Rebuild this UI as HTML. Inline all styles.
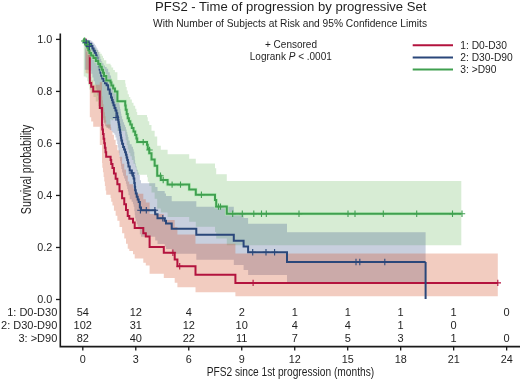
<!DOCTYPE html>
<html><head><meta charset="utf-8"><style>html,body{margin:0;padding:0;background:#fff;width:520px;height:380px;overflow:hidden}svg{display:block}svg{will-change:transform}</style></head>
<body><svg width="520" height="380" viewBox="0 0 520 380" font-family="'Liberation Sans', sans-serif"><rect width="520" height="380" fill="#fff"/><path d="M82.8,39.4H83.75V39.72H85.65V40.6H87.17V41.8H88.3V43.19H89.43V44.72H91.15V46.21H93.45V47.76H95.82V49.71H98.28V51.72H100.25V53.68H101.75V55.7H103V57.97H104V60.3H106.3V63.68H110.5V65.21H111.38V67.55H113.15V69.91H114.92V72.3H117.4V80.12H125.2V83.56H125.7V87.07H126.7V90.62H127.7V94.2H128.9V96.89H130.3V99.6H131.83V102.63H133.5V105.68H135.17V108.75H136.4V111.89H137.2V115.04H147V117.35H147.75V121.15H149.25V124.98H151.5V130.71H154.65V136.5H157.2V145.83H160.8V149.8H167.6V154.15H189.2V158.7H195.8V163.53H215V168.31H216.2V174.37H226.8V180.94H461.3V245.32H226.8V238.4H216.2V232.01H215V226.74H195.8V221.69H189.2V216.9H167.6V212.49H160.8V208.44H157.2V198.67H154.65V192.4H151.5V186.06H149.25V181.73H147.75V177.36H147V174.67H137.2V171.01H136.4V167.32H135.17V163.65H133.5V159.96H131.83V156.25H130.3V152.89H128.9V149.52H127.7V144.94H126.7V140.31H125.7V135.64H125.2V130.95H117.4V120.02H114.92V118.92H113.15V120.24H111.38V118.97H110.5V127.7H106.3V122.54H104V118.3H103V113.97H101.75V109.98H100.25V105.91H98.28V101.54H95.82V97.09H93.45V93.33H91.15V89.52H89.43V85.33H88.3V81.18H87.17V77.44H85.65V76.55H83.75V39.4H82.8Z" fill="#7ac070" fill-opacity="0.3"/><path d="M82.8,39.4H84.78V39.65H88.72V40.34H91.28V41.36H92.42V42.55H93.6V43.86H94.8V45.26H95.8V46.75H96.6V48.3H97.4V49.89H98.17V52.05H98.9V54.27H99.63V56.55H100.4V58.92H101.2V61.32H102.25V63.34H103.55V65.38H105V67.08H106.6V68.8H108.15V72.18H109.7V75.62H111.05V78.68H111.95V80.85H112.65V83.03H113.5V85.28H114.5V87.53H115.47V89.8H116.43V92.08H117.23V94.9H117.88V97.74H118.4V99.89H118.8V102.05H119.22V104.38H119.65V106.73H120.08V109.09H120.52V111.46H120.95V113.84H121.38V116.24H122.1V119.25H123.1V122.28H124.1V124.68H125.1V127.08H125.92V129.54H126.58V132.01H127.22V134.44H127.88V136.89H128.45V140.57H129.7V144.27H131.65V146.84H132.95V149.33H133.65V151.82H134.3V156.26H134.78V159.8H135.12V163.37H135.78V166.56H136.72V169.77H137.7V172.39H138.7V175.02H139.85V180.32H141V183.24H155.2V187.07H157.5V191.01H164.7V193.54H166V196.08H171.7V201.23H196.3V206.82H233.8V212.52H243.6V218.08H248.1V223.84H287V232.13H425.6V283.31H287V274.92H248.1V270.06H243.6V265.1H233.8V259.65H196.3V253.83H171.7V248.93H166V246.53H164.7V244.11H157.5V240.41H155.2V236.78H141V234.13H139.85V229.26H138.7V226.81H137.7V224.34H136.72V221.3H135.78V218.24H135.12V214.78H134.78V211.3H134.3V206.87H133.65V204.35H132.95V201.82H131.65V199.18H129.7V195.36H128.45V191.51H127.88V188.93H127.22V186.34H126.58V183.69H125.92V181.02H125.1V178.4H124.1V175.77H123.1V172.41H122.1V169.04H121.38V166.34H120.95V163.62H120.52V160.89H120.08V158.15H119.65V155.4H119.22V152.63H118.8V150.04H118.4V147.44H117.88V143.97H117.23V140.48H116.43V137.61H115.47V134.74H114.5V133.18H113.5V132.5H112.65V131.42H111.95V130.8H111.05V129.97H109.7V128.86H108.15V127.5H106.6V126.23H105V123.5H103.55V120.16H102.25V116.79H101.2V112.64H100.4V108.42H99.63V104.19H98.9V99.86H98.17V95.44H97.4V91.98H96.6V88.45H95.8V84.85H94.8V81.2H93.6V77.51H92.42V73.82H91.28V70.47H88.72V69.73H84.78V39.4H82.8Z" fill="#485f91" fill-opacity="0.3"/><path d="M82.8,39.4H85.6V41.65H87.2V44.79H88.6V48.51H89.8V76.98H91.2V80.48H93.2V84.74H99.8V82.14H102V96.33H102.32V100.22H102.96V104.15H103.61V108.13H104.25V112.14H104.89V116.2H105.54V120.3H106.18V124.44H110.6V127.36H111.22V131.04H112.47V134.76H113.95V139.84H115.65V144.98H117.35V150.16H119.5V156.87H122.1V163.67H124.27V169.54H126V175.47H127.73V181.49H129.3V184.25H133V188.25H134.7V193.73H143.3V199.23H145.8V202.57H149.6V213.95H163.8V219.99H174.7V227.08H177.4V234.51H195.5V243.76H235.4V253.5H497.8V296.21H235.4V292.29H195.5V287.25H177.4V282.73H174.7V277.9H163.8V273.64H149.6V265.42H145.8V262.87H143.3V258.57H134.7V254.23H133V250.99H129.3V248.72H127.73V243.68H126V238.55H124.27V233.33H122.1V227.11H119.5V220.79H117.35V215.78H115.65V210.71H113.95V205.59H112.47V201.77H111.22V197.93H110.6V194.83H106.18V190.42H105.54V185.96H104.89V181.46H104.25V176.92H103.61V172.34H102.96V167.7H102.32V163.03H102V144.93H99.8V126.69H93.2V121.49H91.2V117.16H89.8V78.56H88.6V73.54H87.2V73.34H85.6V39.4H82.8Z" fill="#d4552d" fill-opacity="0.3"/><path d="M83.1,39.4H85.6V42.5H87.2V46.5H88.6V51H89.8V83H91.2V86.8H93.2V91.4H99.8V107.9H102V125H102.32V129.54H102.96V134.09H103.61V138.63H104.25V143.17H104.89V147.71H105.54V152.26H106.18V156.8H110.6V160H111.22V164H112.47V168H113.95V173.43H115.65V178.87H117.35V184.3H119.5V191.25H122.1V198.2H124.27V204.13H126V210.07H127.73V216H129.3V218.7H133V222.6H134.7V227.9H143.3V233.2H145.8V236.4H149.6V247.1H163.8V252.8H174.7V259.5H177.4V266.3H195.5V274.7H235.4V282.9H497.8" fill="none" stroke="#b3133e" stroke-width="2"/><path d="M169.7,252.8H176.1M172.9,249.6V256" stroke="#b3133e" stroke-width="1.1" fill="none"/><path d="M176.5,266.3H182.9M179.7,263.1V269.5" stroke="#b3133e" stroke-width="1.1" fill="none"/><path d="M249.9,282.9H256.3M253.1,279.7V286.1" stroke="#b3133e" stroke-width="1.1" fill="none"/><path d="M494.6,282.9H501M497.8,279.7V286.1" stroke="#b3133e" stroke-width="1.1" fill="none"/><path d="M83.1,39.4H84.78V41.55H88.72V43.7H91.28V46.05H92.42V48.4H93.6V50.75H94.8V53.1H95.8V55.47H96.6V57.83H97.4V60.2H98.17V63.3H98.9V66.4H99.63V69.5H100.4V72.65H101.2V75.8H102.25V78.4H103.55V81H105V83.15H106.6V85.3H108.15V89.5H109.7V93.7H111.05V97.4H111.95V100H112.65V102.6H113.5V105.25H114.5V107.9H115.47V110.55H116.43V113.2H117.23V116.45H117.88V119.7H118.4V122.15H118.8V124.6H119.22V127.23H119.65V129.87H120.08V132.5H120.52V135.13H120.95V137.77H121.38V140.4H122.1V143.7H123.1V147H124.1V149.6H125.1V152.2H125.92V154.85H126.58V157.5H127.22V160.1H127.88V162.7H128.45V166.6H129.7V170.5H131.65V173.2H132.95V175.8H133.65V178.4H134.3V183H134.78V186.65H135.12V190.3H135.78V193.55H136.72V196.8H137.7V199.45H138.7V202.1H139.85V207.4H141V210.3H155.2V214.2H157.5V218.2H164.7V220.8H166V223.4H171.7V228.7H196.3V234.8H233.8V240.8H243.6V246.5H248.1V252.3H287V262H425.6" fill="none" stroke="#2a477a" stroke-width="2"/><path d="M425.6,262V299" stroke="#2a477a" stroke-width="2" fill="none"/><path d="M112.8,117.5H119.2M116,114.3V120.7" stroke="#2a477a" stroke-width="1.1" fill="none"/><path d="M128.8,173H135.2M132,169.8V176.2" stroke="#2a477a" stroke-width="1.1" fill="none"/><path d="M137.2,210.3H143.6M140.4,207.1V213.5" stroke="#2a477a" stroke-width="1.1" fill="none"/><path d="M143.1,210.3H149.5M146.3,207.1V213.5" stroke="#2a477a" stroke-width="1.1" fill="none"/><path d="M151.7,210.3H158.1M154.9,207.1V213.5" stroke="#2a477a" stroke-width="1.1" fill="none"/><path d="M159.6,218.2H166M162.8,215V221.4" stroke="#2a477a" stroke-width="1.1" fill="none"/><path d="M249.5,252.3H255.9M252.7,249.1V255.5" stroke="#2a477a" stroke-width="1.1" fill="none"/><path d="M262.8,252.3H269.2M266,249.1V255.5" stroke="#2a477a" stroke-width="1.1" fill="none"/><path d="M271.4,252.3H277.8M274.6,249.1V255.5" stroke="#2a477a" stroke-width="1.1" fill="none"/><path d="M352.8,262H359.2M356,258.8V265.2" stroke="#2a477a" stroke-width="1.1" fill="none"/><path d="M356.6,262H363M359.8,258.8V265.2" stroke="#2a477a" stroke-width="1.1" fill="none"/><path d="M381.6,262H388M384.8,258.8V265.2" stroke="#2a477a" stroke-width="1.1" fill="none"/><path d="M83.1,39.4H83.75V42.1H85.65V44.8H87.17V47.53H88.3V50.27H89.43V53H91.15V55.5H93.45V58H95.82V61H98.28V64H100.25V66.85H101.75V69.7H103V72.85H104V76H106.3V80.5H110.5V82.5H111.38V85.53H113.15V88.57H114.92V91.6H117.4V101.3H125.2V105.5H125.7V109.73H126.7V113.97H127.7V118.2H128.9V121.35H130.3V124.5H131.83V128H133.5V131.5H135.17V135H136.4V138.55H137.2V142.1H147V144.7H147.75V148.95H149.25V153.2H151.5V159.5H154.65V165.8H157.2V175.8H160.8V180H167.6V184.6H189.2V189.5H195.8V194.7H215V200H216.2V206.6H226.8V213.8H461.3" fill="none" stroke="#b8f0b8" stroke-opacity="0.7" stroke-width="3.6"/><path d="M83.1,39.4H83.75V42.1H85.65V44.8H87.17V47.53H88.3V50.27H89.43V53H91.15V55.5H93.45V58H95.82V61H98.28V64H100.25V66.85H101.75V69.7H103V72.85H104V76H106.3V80.5H110.5V82.5H111.38V85.53H113.15V88.57H114.92V91.6H117.4V101.3H125.2V105.5H125.7V109.73H126.7V113.97H127.7V118.2H128.9V121.35H130.3V124.5H131.83V128H133.5V131.5H135.17V135H136.4V138.55H137.2V142.1H147V144.7H147.75V148.95H149.25V153.2H151.5V159.5H154.65V165.8H157.2V175.8H160.8V180H167.6V184.6H189.2V189.5H195.8V194.7H215V200H216.2V206.6H226.8V213.8H461.3" fill="none" stroke="#40a050" stroke-width="2"/><path d="M140,142.1H146.4M143.2,138.9V145.3" stroke="#40a050" stroke-width="1.1" fill="none"/><path d="M146.3,150H152.7M149.5,146.8V153.2" stroke="#40a050" stroke-width="1.1" fill="none"/><path d="M157.3,175.8H163.7M160.5,172.6V179" stroke="#40a050" stroke-width="1.1" fill="none"/><path d="M160,180H166.4M163.2,176.8V183.2" stroke="#40a050" stroke-width="1.1" fill="none"/><path d="M168.9,184.6H175.3M172.1,181.4V187.8" stroke="#40a050" stroke-width="1.1" fill="none"/><path d="M177.3,184.6H183.7M180.5,181.4V187.8" stroke="#40a050" stroke-width="1.1" fill="none"/><path d="M198.2,194.7H204.6M201.4,191.5V197.9" stroke="#40a050" stroke-width="1.1" fill="none"/><path d="M215.3,206.6H221.7M218.5,203.4V209.8" stroke="#40a050" stroke-width="1.1" fill="none"/><path d="M217.3,206.6H223.7M220.5,203.4V209.8" stroke="#40a050" stroke-width="1.1" fill="none"/><path d="M229.5,213.8H235.9M232.7,210.6V217" stroke="#40a050" stroke-width="1.1" fill="none"/><path d="M239.1,213.8H245.5M242.3,210.6V217" stroke="#40a050" stroke-width="1.1" fill="none"/><path d="M250.6,213.8H257M253.8,210.6V217" stroke="#40a050" stroke-width="1.1" fill="none"/><path d="M258.3,213.8H264.7M261.5,210.6V217" stroke="#40a050" stroke-width="1.1" fill="none"/><path d="M263.1,213.8H269.5M266.3,210.6V217" stroke="#40a050" stroke-width="1.1" fill="none"/><path d="M295.8,213.8H302.2M299,210.6V217" stroke="#40a050" stroke-width="1.1" fill="none"/><path d="M344.8,213.8H351.2M348,210.6V217" stroke="#40a050" stroke-width="1.1" fill="none"/><path d="M351.8,213.8H358.2M355,210.6V217" stroke="#40a050" stroke-width="1.1" fill="none"/><path d="M380.1,213.8H386.5M383.3,210.6V217" stroke="#40a050" stroke-width="1.1" fill="none"/><path d="M413.5,213.8H419.9M416.7,210.6V217" stroke="#40a050" stroke-width="1.1" fill="none"/><path d="M449.3,213.8H455.7M452.5,210.6V217" stroke="#40a050" stroke-width="1.1" fill="none"/><path d="M458.8,213.8H465.2M462,210.6V217" stroke="#40a050" stroke-width="1.1" fill="none"/><path d="M81,41H88.2M84.6,37.4V44.6" stroke="#40a050" stroke-width="1.1" fill="none"/><path d="M82.6,42.8H89.8M86.2,39.2V46.4" stroke="#2a477a" stroke-width="1.1" fill="none"/><path d="M84.2,44.6H91.4M87.8,41V48.2" stroke="#40a050" stroke-width="1.1" fill="none"/><path d="M85.7,46.4H92.9M89.3,42.8V50" stroke="#2a477a" stroke-width="1.1" fill="none"/><path d="M60.3,33.5V346.6H520" fill="none" stroke="#1a1a1a" stroke-width="1.6"/><path d="M56,299.5H60" stroke="#1a1a1a" stroke-width="1.3"/><text x="52.2" y="303.1" font-size="10.8" fill="#1f1f1f" text-anchor="end">0.0</text><path d="M56,247.48H60" stroke="#1a1a1a" stroke-width="1.3"/><text x="52.2" y="251.08" font-size="10.8" fill="#1f1f1f" text-anchor="end">0.2</text><path d="M56,195.46H60" stroke="#1a1a1a" stroke-width="1.3"/><text x="52.2" y="199.06" font-size="10.8" fill="#1f1f1f" text-anchor="end">0.4</text><path d="M56,143.44H60" stroke="#1a1a1a" stroke-width="1.3"/><text x="52.2" y="147.04" font-size="10.8" fill="#1f1f1f" text-anchor="end">0.6</text><path d="M56,91.42H60" stroke="#1a1a1a" stroke-width="1.3"/><text x="52.2" y="95.02" font-size="10.8" fill="#1f1f1f" text-anchor="end">0.8</text><path d="M56,39.4H60" stroke="#1a1a1a" stroke-width="1.3"/><text x="52.2" y="43" font-size="10.8" fill="#1f1f1f" text-anchor="end">1.0</text><path d="M82.8,346.6V350.5" stroke="#1a1a1a" stroke-width="1.3"/><text x="82.8" y="362.7" font-size="10.8" fill="#1f1f1f" text-anchor="middle">0</text><path d="M135.78,346.6V350.5" stroke="#1a1a1a" stroke-width="1.3"/><text x="135.78" y="362.7" font-size="10.8" fill="#1f1f1f" text-anchor="middle">3</text><path d="M188.76,346.6V350.5" stroke="#1a1a1a" stroke-width="1.3"/><text x="188.76" y="362.7" font-size="10.8" fill="#1f1f1f" text-anchor="middle">6</text><path d="M241.74,346.6V350.5" stroke="#1a1a1a" stroke-width="1.3"/><text x="241.74" y="362.7" font-size="10.8" fill="#1f1f1f" text-anchor="middle">9</text><path d="M294.72,346.6V350.5" stroke="#1a1a1a" stroke-width="1.3"/><text x="294.72" y="362.7" font-size="10.8" fill="#1f1f1f" text-anchor="middle">12</text><path d="M347.7,346.6V350.5" stroke="#1a1a1a" stroke-width="1.3"/><text x="347.7" y="362.7" font-size="10.8" fill="#1f1f1f" text-anchor="middle">15</text><path d="M400.68,346.6V350.5" stroke="#1a1a1a" stroke-width="1.3"/><text x="400.68" y="362.7" font-size="10.8" fill="#1f1f1f" text-anchor="middle">18</text><path d="M453.66,346.6V350.5" stroke="#1a1a1a" stroke-width="1.3"/><text x="453.66" y="362.7" font-size="10.8" fill="#1f1f1f" text-anchor="middle">21</text><path d="M506.64,346.6V350.5" stroke="#1a1a1a" stroke-width="1.3"/><text x="506.64" y="362.7" font-size="10.8" fill="#1f1f1f" text-anchor="middle">24</text><text x="57.3" y="316.2" font-size="11" fill="#1f1f1f" text-anchor="end">1: D0-D30</text><text x="82.8" y="316.2" font-size="11" fill="#1f1f1f" text-anchor="middle">54</text><text x="135.78" y="316.2" font-size="11" fill="#1f1f1f" text-anchor="middle">12</text><text x="188.76" y="316.2" font-size="11" fill="#1f1f1f" text-anchor="middle">4</text><text x="241.74" y="316.2" font-size="11" fill="#1f1f1f" text-anchor="middle">2</text><text x="294.72" y="316.2" font-size="11" fill="#1f1f1f" text-anchor="middle">1</text><text x="347.7" y="316.2" font-size="11" fill="#1f1f1f" text-anchor="middle">1</text><text x="400.68" y="316.2" font-size="11" fill="#1f1f1f" text-anchor="middle">1</text><text x="453.66" y="316.2" font-size="11" fill="#1f1f1f" text-anchor="middle">1</text><text x="506.64" y="316.2" font-size="11" fill="#1f1f1f" text-anchor="middle">0</text><text x="57.3" y="328.8" font-size="11" fill="#1f1f1f" text-anchor="end">2: D30-D90</text><text x="82.8" y="328.8" font-size="11" fill="#1f1f1f" text-anchor="middle">102</text><text x="135.78" y="328.8" font-size="11" fill="#1f1f1f" text-anchor="middle">31</text><text x="188.76" y="328.8" font-size="11" fill="#1f1f1f" text-anchor="middle">12</text><text x="241.74" y="328.8" font-size="11" fill="#1f1f1f" text-anchor="middle">10</text><text x="294.72" y="328.8" font-size="11" fill="#1f1f1f" text-anchor="middle">4</text><text x="347.7" y="328.8" font-size="11" fill="#1f1f1f" text-anchor="middle">4</text><text x="400.68" y="328.8" font-size="11" fill="#1f1f1f" text-anchor="middle">1</text><text x="453.66" y="328.8" font-size="11" fill="#1f1f1f" text-anchor="middle">0</text><text x="57.3" y="341.5" font-size="11" fill="#1f1f1f" text-anchor="end">3: &gt;D90</text><text x="82.8" y="341.5" font-size="11" fill="#1f1f1f" text-anchor="middle">82</text><text x="135.78" y="341.5" font-size="11" fill="#1f1f1f" text-anchor="middle">40</text><text x="188.76" y="341.5" font-size="11" fill="#1f1f1f" text-anchor="middle">22</text><text x="241.74" y="341.5" font-size="11" fill="#1f1f1f" text-anchor="middle">11</text><text x="294.72" y="341.5" font-size="11" fill="#1f1f1f" text-anchor="middle">7</text><text x="347.7" y="341.5" font-size="11" fill="#1f1f1f" text-anchor="middle">5</text><text x="400.68" y="341.5" font-size="11" fill="#1f1f1f" text-anchor="middle">3</text><text x="453.66" y="341.5" font-size="11" fill="#1f1f1f" text-anchor="middle">1</text><text x="506.64" y="341.5" font-size="11" fill="#1f1f1f" text-anchor="middle">0</text><text x="290.7" y="10.7" font-size="12.1" fill="#1f1f1f" text-anchor="middle" textLength="271.5" lengthAdjust="spacingAndGlyphs">PFS2 - Time of progression by progressive Set</text><text x="290" y="26.5" font-size="10.1" fill="#1f1f1f" text-anchor="middle" textLength="274" lengthAdjust="spacingAndGlyphs">With Number of Subjects at Risk and 95% Confidence Limits</text><text x="291" y="48.1" font-size="10" fill="#1f1f1f" text-anchor="middle">+ Censored</text><text x="290.8" y="60.4" font-size="10" fill="#1f1f1f" text-anchor="middle">Logrank <tspan font-style="italic">P</tspan> &lt; .0001</text><path d="M412.7,45.3H453" stroke="#b3133e" stroke-width="2"/><text x="460.3" y="49.4" font-size="10.25" fill="#1f1f1f">1: D0-D30</text><path d="M412.7,57.4H453" stroke="#2a477a" stroke-width="2"/><text x="460.3" y="61.3" font-size="10.25" fill="#1f1f1f">2: D30-D90</text><path d="M412.7,69.5H453" stroke="#40a050" stroke-width="2"/><text x="460.3" y="73.2" font-size="10.25" fill="#1f1f1f">3: &gt;D90</text><text x="290.4" y="376.4" font-size="13.3" fill="#1f1f1f" text-anchor="middle" textLength="167.5" lengthAdjust="spacingAndGlyphs">PFS2 since 1st progression (months)</text><text transform="translate(31.4,169.4) rotate(-90)" x="0" y="0" font-size="14.4" fill="#1f1f1f" text-anchor="middle" textLength="89.5" lengthAdjust="spacingAndGlyphs">Survival probability</text></svg></body></html>
